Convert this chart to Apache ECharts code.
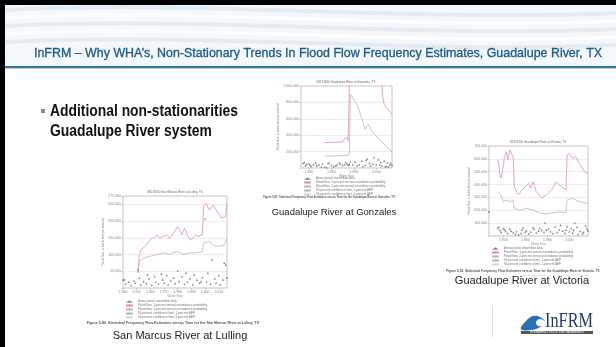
<!DOCTYPE html>
<html>
<head>
<meta charset="utf-8">
<style>
  html, body { margin: 0; padding: 0; background: #fff; }
  #main { width: 616px; height: 347px; }
</style>
<script src="https://cdn.jsdelivr.net/npm/echarts@6/dist/echarts.min.js"></script>
</head>
<body>
<div id="main"></div>
<script>
// Guadalupe River at Gonzales
const gonzUpperYears = [1954, 1960, 1965, 1970, 1972, 1974, 1975, 1976, 1977, 1980, 1990, 2000, 2004, 2005, 2006, 2007, 2008, 2010, 2012, 2014];
const gonzUpper = [310000, 312000, 314000, 316000, 360000, 375000, 335000, 340000, 1600000, 1500000, 1400000, 1200000, 1060000, 1000000, 845000, 780000, 800000, 720000, 690000, 650000];
const gonzLowerYears = [1954, 1960, 1970, 1976, 1977, 1978, 1983, 1987, 1990, 1993, 1997, 2003, 2009, 2014];
const gonzLower = [145000, 146000, 150000, 160000, 900000, 915000, 770000, 610000, 470000, 530000, 430000, 345000, 260000, 200000];
const gonzPeakYears = [1935, 1936, 1937, 1938, 1940, 1941, 1942, 1944, 1946, 1947, 1949, 1951, 1952, 1954, 1956, 1957, 1958, 1960, 1962, 1964, 1965, 1967, 1968, 1970, 1972, 1973, 1974, 1975, 1976, 1977, 1979, 1981, 1983, 1985, 1987, 1988, 1990, 1991, 1992, 1994, 1995, 1997, 1998, 2000, 2002, 2003, 2004, 2005, 2007, 2008, 2009, 2010, 2011, 2012, 2013, 2014];
const gonzPeakFlows = [60000, 72000, 30000, 48000, 55000, 38000, 22000, 45000, 62000, 28000, 40000, 15000, 52000, 12000, 8000, 58000, 66000, 35000, 20000, 30000, 42000, 64000, 50000, 34000, 45000, 70000, 55000, 38000, 48000, 80000, 40000, 75000, 30000, 42000, 88000, 20000, 35000, 95000, 110000, 60000, 25000, 50000, 130000, 45000, 105000, 40000, 70000, 30000, 85000, 18000, 22000, 65000, 15000, 40000, 58000, 35000];
const gonzXLabels = [1940, 1960, 1980, 2000];

// Guadalupe River at Victoria
const vicUpperYears = [1935, 1936, 1937, 1938, 1940, 1941, 1943, 1944, 1946, 1947, 1949, 1950, 1952, 1954, 1957, 1960, 1963, 1965, 1967, 1970, 1975, 1979, 1984, 1988, 1993, 1997, 1998, 2000, 2003, 2006, 2009, 2014, 2017];
const vicUpper = [590000, 550000, 475000, 450000, 540000, 615000, 655000, 590000, 670000, 675000, 615000, 385000, 345000, 320000, 358000, 383000, 410000, 370000, 422000, 345000, 293000, 319000, 358000, 422000, 383000, 358000, 630000, 643000, 604000, 617000, 565000, 500000, 488000];
const vicLowerYears = [1935, 1938, 1940, 1943, 1946, 1949, 1950, 1955, 1961, 1967, 1973, 1979, 1985, 1991, 1997, 1998, 2003, 2009, 2017];
const vicLower = [345000, 319000, 267000, 280000, 267000, 280000, 215000, 197000, 215000, 202000, 181000, 171000, 181000, 189000, 181000, 280000, 293000, 267000, 254000];
const vicPeakYears = [1927, 1935, 1936, 1937, 1938, 1940, 1941, 1942, 1944, 1946, 1947, 1949, 1951, 1952, 1954, 1956, 1957, 1958, 1960, 1961, 1963, 1965, 1967, 1968, 1970, 1972, 1973, 1975, 1977, 1978, 1979, 1981, 1983, 1985, 1987, 1989, 1991, 1992, 1994, 1996, 1997, 1998, 2000, 2002, 2003, 2004, 2005, 2007, 2008, 2010, 2012, 2013, 2015, 2016, 2017];
const vicPeakFlows = [189000, 62000, 70000, 45000, 30000, 60000, 52000, 38000, 22000, 58000, 40000, 28000, 15000, 35000, 12000, 20000, 48000, 65000, 30000, 42000, 18000, 32000, 68000, 55000, 25000, 40000, 62000, 45000, 30000, 103000, 50000, 58000, 35000, 20000, 72000, 28000, 50000, 85000, 40000, 22000, 48000, 75000, 35000, 60000, 25000, 45000, 103000, 70000, 15000, 38000, 20000, 30000, 80000, 58000, 42000];
const vicXLabels = [1940, 1960, 1980, 2000];

// San Marcus River at Lulling
const lulUpperYears = [1951, 1952, 1953, 1956, 1958, 1961, 1963, 1965, 1967, 1969, 1972, 1974, 1977, 1980, 1983, 1985, 1988, 1990, 1993, 1995, 1998, 1999, 2001, 2003, 2006, 2009, 2012, 2015, 2016];
const lulUpper = [45000, 100000, 114000, 124000, 134000, 149000, 149000, 159000, 149000, 154000, 159000, 149000, 164000, 184000, 159000, 179000, 149000, 144000, 159000, 154000, 159000, 248000, 253000, 233000, 248000, 228000, 209000, 214000, 253000];
const lulLowerYears = [1951, 1952, 1955, 1960, 1965, 1970, 1974, 1979, 1984, 1989, 1994, 1998, 1999, 2003, 2006, 2010, 2014, 2016];
const lulLower = [45000, 80000, 90000, 95000, 100000, 105000, 100000, 109000, 100000, 105000, 105000, 109000, 134000, 139000, 129000, 124000, 129000, 149000];
const lulPeakYears = [1940, 1941, 1942, 1944, 1946, 1948, 1949, 1951, 1952, 1953, 1955, 1957, 1958, 1959, 1961, 1963, 1964, 1966, 1968, 1969, 1970, 1972, 1973, 1975, 1977, 1978, 1980, 1981, 1983, 1985, 1986, 1987, 1989, 1991, 1992, 1994, 1996, 1997, 1998, 2000, 2001, 2002, 2004, 2005, 2007, 2008, 2010, 2011, 2013, 2014, 2015, 2016];
const lulPeakFlows = [25000, 25000, 12000, 18000, 8000, 22000, 15000, 55000, 30000, 10000, 20000, 14000, 40000, 28000, 9000, 35000, 18000, 12000, 42000, 25000, 16000, 38000, 10000, 22000, 30000, 14000, 52000, 20000, 35000, 12000, 45000, 18000, 28000, 10000, 40000, 24000, 15000, 20000, 32000, 207000, 18000, 45000, 12000, 85000, 28000, 16000, 38000, 10000, 25000, 75000, 70000, 30000];
const lulXLabels = [1940, 1950, 1960, 1970, 1980, 1990, 2000, 2010];

const legendNames = [
  'Annual peak streamflow data',
  'Flood flow, 1-percent annual exceedance probability',
  'Flood flow, 2-percent annual exceedance probability',
  '95-percent confidence limit, 1-percent AEP',
  '95-percent confidence limit, 2-percent AEP'
];

const chart = echarts.init(document.getElementById('main'));
const sans = '"Liberation Sans", Arial, sans-serif';
const serif = '"Liberation Serif", "DejaVu Serif", serif';
const upperColor = '#e2909c';
const lowerColor = '#cbb0b6';

function pairs(xs, ys) {
  return xs.map(function (x, i) { return [x, ys[i]]; });
}

// horizontal squeeze so a text run fills a given width (the slide font is condensed)
const measureCtx = document.createElement('canvas').getContext('2d');
function squeeze(text, font, width) {
  measureCtx.font = font;
  return width / measureCtx.measureText(text).width;
}

// one small chart panel: grid + axes + series
const panels = [
  { left: 301, top: 86, width: 91, height: 82, xmin: 1933, xmax: 2014, ymax: 1000000, yint: 200000, xl: gonzXLabels,
    up: pairs(gonzUpperYears, gonzUpper), lo: pairs(gonzLowerYears, gonzLower), pk: pairs(gonzPeakYears, gonzPeakFlows) },
  { left: 489, top: 146, width: 99, height: 90, xmin: 1927, xmax: 2017, ymax: 700000, yint: 100000, xl: vicXLabels,
    up: pairs(vicUpperYears, vicUpper), lo: pairs(vicLowerYears, vicLower), pk: pairs(vicPeakYears, vicPeakFlows) },
  { left: 123, top: 196, width: 104, height: 92, xmin: 1940, xmax: 2016, ymax: 275000, yint: 50000, xl: lulXLabels,
    up: pairs(lulUpperYears, lulUpper), lo: pairs(lulLowerYears, lulLower), pk: pairs(lulPeakYears, lulPeakFlows) }
];

const grids = [], xAxes = [], yAxes = [], series = [], legends = [];
panels.forEach(function (p, i) {
  grids.push({ left: p.left, top: p.top, width: p.width, height: p.height, show: true,
    borderColor: '#a0a0a0', borderWidth: 0.6, containLabel: false });
  xAxes.push({
    type: 'value', gridIndex: i, min: p.xmin, max: p.xmax,
    name: 'Water Year', nameLocation: 'middle', nameGap: 7,
    nameTextStyle: { fontSize: 3, color: '#888' },
    axisLine: { show: false },
    axisTick: { show: true, length: 1.5, customValues: p.xl, lineStyle: { color: '#999', width: 0.5 } },
    axisLabel: { fontSize: 3.5, color: '#888', margin: 2, customValues: p.xl, formatter: '{value}' },
    splitLine: { show: false }
  });
  yAxes.push({
    type: 'value', gridIndex: i, min: 0, max: p.ymax, interval: p.yint,
    name: 'Flood flow, in cubic feet per second', nameLocation: 'middle', nameGap: 15,
    nameTextStyle: { fontSize: 3, color: '#888' },
    axisLine: { show: false },
    axisTick: { show: true, length: 1.5, lineStyle: { color: '#999', width: 0.5 } },
    axisLabel: { fontSize: 3.5, color: '#888', margin: 2,
      formatter: function (v) { return v === 0 ? '' : v.toLocaleString('en-US'); } },
    splitLine: { show: true, lineStyle: { color: '#e2e2e2', width: 0.6 } }
  });
  series.push({ name: legendNames[0], type: 'scatter', xAxisIndex: i, yAxisIndex: i, data: p.pk,
    symbol: 'triangle', symbolSize: 2.2, itemStyle: { color: '#6a6a6a' }, z: 3 });
  series.push({ name: legendNames[1], type: 'line', xAxisIndex: i, yAxisIndex: i, data: p.up,
    symbol: 'none', lineStyle: { color: upperColor, width: 0.8 }, itemStyle: { color: upperColor }, clip: true });
  series.push({ name: legendNames[2], type: 'line', xAxisIndex: i, yAxisIndex: i, data: p.lo,
    symbol: 'none', lineStyle: { color: lowerColor, width: 0.8 }, itemStyle: { color: lowerColor }, clip: true });
});
// legend-only entries
series.push({ name: legendNames[3], type: 'line', xAxisIndex: 0, yAxisIndex: 0, data: [], symbol: 'none',
  lineStyle: { color: '#b9b9b9', width: 0.8 }, itemStyle: { color: '#b9b9b9' } });
series.push({ name: legendNames[4], type: 'line', xAxisIndex: 0, yAxisIndex: 0, data: [], symbol: 'none',
  lineStyle: { color: '#d6d6d6', width: 0.8 }, itemStyle: { color: '#d6d6d6' } });

[[303, 177], [491, 247], [125, 300]].forEach(function (pos) {
  legends.push({ data: legendNames, orient: 'vertical', left: pos[0], top: pos[1], padding: 0,
    itemWidth: 7, itemHeight: 2.5, itemGap: 1, selectedMode: false,
    textStyle: { fontSize: 3, color: '#777' } });
});

// header waves, faint
const waves = [];
[10, 18, 26, 34, 42].forEach(function (y, k) {
  waves.push({ type: 'bezierCurve', silent: true,
    shape: { x1: 5, y1: y, x2: 616, y2: y + 3, cpx1: 200, cpy1: y - 10, cpx2: 420, cpy2: y + 12 },
    style: { fill: null, stroke: k % 2 ? '#fbfdfe' : '#e3ecf3', lineWidth: 4 } });
});

const titleText = 'InFRM \u2013 Why WHA\u2019s, Non-Stationary Trends In Flood Flow Frequency Estimates, Guadalupe River, TX';
const titleFont = '13.5px ' + sans;
const bulletFont = 'bold 16px ' + sans;
const bulletScale = squeeze('Additional non-stationarities', bulletFont, 188);
const logoFont = '21px ' + serif;

const graphics = [
  { type: 'rect', shape: { x: 5, y: 5, width: 611, height: 61 }, style: { fill: '#f4f8fb' }, silent: true }
].concat(waves).concat([
  { type: 'rect', shape: { x: 0, y: 0, width: 616, height: 5 }, style: { fill: '#000' } },
  { type: 'rect', shape: { x: 0, y: 0, width: 5, height: 347 }, style: { fill: '#000' } },
  { type: 'rect', shape: { x: 5, y: 66, width: 611, height: 2 }, style: { fill: '#2f79ad' } },
  { type: 'rect', shape: { x: 5, y: 68, width: 611, height: 1 }, style: { fill: '#b3cfe2' } },
  { type: 'text', x: 318, y: 53, scaleX: squeeze(titleText, titleFont, 568),
    style: { text: titleText, font: titleFont, fill: '#1c5c8c', stroke: '#1c5c8c', lineWidth: 0.35,
      align: 'center', verticalAlign: 'middle' } },
  { type: 'rect', shape: { x: 41, y: 109, width: 4, height: 4 }, style: { fill: '#8a8a8a' } },
  { type: 'text', x: 50, y: 112, scaleX: bulletScale,
    style: { text: 'Additional non-stationarities', font: bulletFont, fill: '#111', verticalAlign: 'middle' } },
  { type: 'text', x: 50, y: 132, scaleX: bulletScale,
    style: { text: 'Guadalupe River system', font: bulletFont, fill: '#111', verticalAlign: 'middle' } },

  // panel titles
  { type: 'text', x: 346, y: 84, style: { text: '08173900 Guadalupe River at Gonzales, TX', font: '3px sans-serif', fill: '#666', align: 'center', verticalAlign: 'bottom' } },
  { type: 'text', x: 538, y: 144, style: { text: '08176500 Guadalupe River at Victoria, TX', font: '3px sans-serif', fill: '#666', align: 'center', verticalAlign: 'bottom' } },
  { type: 'text', x: 175, y: 194, style: { text: '08172000 San Marcos River at Luling, TX', font: '3px sans-serif', fill: '#666', align: 'center', verticalAlign: 'bottom' } },

  // figure captions
  { type: 'text', x: 329, y: 197, style: { text: 'Figure 5-87. Statistical Frequency Flow Estimates versus Time for the Guadalupe River at Gonzales, TX', font: 'bold 2.7px sans-serif', fill: '#555', align: 'center', verticalAlign: 'middle' } },
  { type: 'text', x: 523, y: 271, style: { text: 'Figure 5-90. Statistical Frequency Flow Estimates versus Time for the Guadalupe River at Victoria, TX', font: 'bold 3.2px sans-serif', fill: '#555', align: 'center', verticalAlign: 'middle' } },
  { type: 'text', x: 173, y: 323, style: { text: 'Figure 5-80. Statistical Frequency Flow Estimates versus Time for the San Marcos River at Luling, TX', font: 'bold 3.6px sans-serif', fill: '#555', align: 'center', verticalAlign: 'middle' } },

  // labels
  { type: 'text', x: 334, y: 212, style: { text: 'Guadalupe River at Gonzales', font: '9.5px ' + sans, fill: '#222', align: 'center', verticalAlign: 'middle' } },
  { type: 'text', x: 522, y: 281, style: { text: 'Guadalupe River at Victoria', font: '11px ' + sans, fill: '#222', align: 'center', verticalAlign: 'middle' } },
  { type: 'text', x: 180, y: 336, style: { text: 'San Marcus River at Lulling', font: '11px ' + sans, fill: '#222', align: 'center', verticalAlign: 'middle' } },
  { type: 'rect', shape: { x: 520, y: 275, width: 68, height: 0.6 }, style: { fill: '#d6d6d6' } },

  // logo
  { type: 'rect', shape: { x: 492, y: 306, width: 0.8, height: 31 }, style: { fill: '#d0d0d0' } },
  { type: 'polygon', shape: { smooth: 0.4, points: [[521, 329], [526, 321], [533, 316], [540, 317], [545, 321], [540, 319], [536, 322], [538, 326], [542, 326], [532, 330]] },
    style: { fill: '#2d6fb5' } },
  { type: 'text', x: 545, y: 321, scaleX: squeeze('InFRM', logoFont, 48),
    style: { text: 'InFRM', font: logoFont, fill: '#1f3b6b', verticalAlign: 'middle' } },
  { type: 'rect', shape: { x: 521, y: 331, width: 72, height: 3 }, style: { fill: '#555' } },
  { type: 'text', x: 557, y: 332.5, style: { text: 'INTERAGENCY FLOOD RISK MANAGEMENT', font: '2.6px sans-serif', fill: '#fff', align: 'center', verticalAlign: 'middle' } }
]);

chart.setOption({
  backgroundColor: '#ffffff',
  animation: false,
  grid: grids,
  xAxis: xAxes,
  yAxis: yAxes,
  legend: legends,
  series: series,
  graphic: graphics
});
</script>
</body>
</html>
